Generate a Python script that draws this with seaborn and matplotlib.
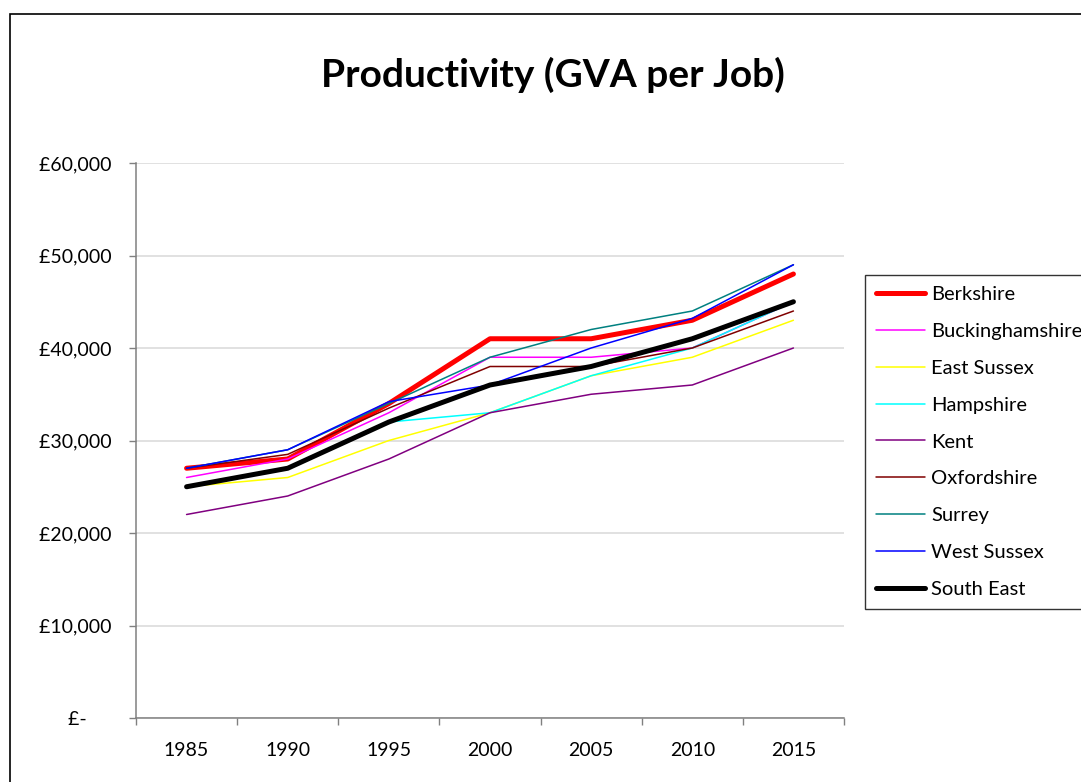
import numpy as np
import pandas as pd
import matplotlib
matplotlib.use("Agg")
import matplotlib.pyplot as plt
import matplotlib.ticker as mticker
from matplotlib.patches import Rectangle
import seaborn as sns

years = ["1985", "1990", "1995", "2000", "2005", "2010", "2015"]
berkshire = [27000, 28000, 34000, 41000, 41000, 43000, 48000]
buckinghamshire = [26000, 28000, 33000, 39000, 39000, 40000, 45000]
east_sussex = [25000, 26000, 30000, 33000, 37000, 39000, 43000]
hampshire = [25000, 27000, 32000, 33000, 37000, 40000, 45000]
kent = [22000, 24000, 28000, 33000, 35000, 36000, 40000]
oxfordshire = [27000, 28500, 33500, 38000, 38000, 40000, 44000]
surrey = [27000, 29000, 34000, 39000, 42000, 44000, 49000]
west_sussex = [27000, 29000, 34200, 36000, 40000, 43200, 49000]
south_east = [25000, 27000, 32000, 36000, 38000, 41000, 45000]

series = {
    "Berkshire": berkshire,
    "Buckinghamshire": buckinghamshire,
    "East Sussex": east_sussex,
    "Hampshire": hampshire,
    "Kent": kent,
    "Oxfordshire": oxfordshire,
    "Surrey": surrey,
    "West Sussex": west_sussex,
    "South East": south_east,
}
colors = {
    "Berkshire": "#FF0000",
    "Buckinghamshire": "#FF00FF",
    "East Sussex": "#FFFF00",
    "Hampshire": "#00FFFF",
    "Kent": "#800080",
    "Oxfordshire": "#800000",
    "Surrey": "#008080",
    "West Sussex": "#0000FF",
    "South East": "#000000",
}
thick = {"Berkshire", "South East"}

df = pd.DataFrame(
    [(name, y, v) for name, vals in series.items() for y, v in zip(years, vals)],
    columns=["Area", "Year", "GVA"],
)

sns.set_theme(style="white")
plt.rcParams["font.family"] = ["Lato", "DejaVu Sans"]
plt.rcParams["text.color"] = "black"

fig = plt.figure(figsize=(10.81, 7.82), dpi=100)
ax = fig.add_axes([136 / 1081, 1 - 718 / 782, (844 - 136) / 1081, (718 - 163) / 782])

# one line per area so widths can differ (Berkshire / South East thick)
for name in series:
    sub = df[df["Area"] == name]
    sns.lineplot(data=sub, x="Year", y="GVA", ax=ax, color=colors[name],
                 linewidth=3.6 if name in thick else 1.1, label=name,
                 solid_capstyle="round", solid_joinstyle="round", sort=False)

ax.set_xlim(-0.5, len(years) - 0.5)
ax.set_ylim(0, 60000)
ax.set_yticks(np.arange(0, 60001, 10000))
ax.yaxis.set_major_formatter(mticker.FuncFormatter(
    lambda v, p: "£-      " if v == 0 else f"£{v:,.0f} "))
ax.set_xticks(range(len(years)))
ax.set_xticklabels(years)
ax.set_xticks(np.arange(-0.5, len(years), 1.0), minor=True)
ax.tick_params(axis="x", which="major", length=0, pad=17, labelsize=14, colors="black")
ax.tick_params(axis="x", which="minor", length=5, width=1, direction="out",
               color="#808080", bottom=True)
ax.tick_params(axis="y", length=5, width=1, direction="out", color="#808080",
               pad=9, labelsize=14, labelcolor="black", left=True)
ax.set_xlabel("")
ax.set_ylabel("")
ax.grid(axis="y", color="#d9d9d9", linewidth=1.1)
ax.set_axisbelow(True)
for s in ["top", "right"]:
    ax.spines[s].set_visible(False)
for s in ["left", "bottom"]:
    ax.spines[s].set_color("#808080")
    ax.spines[s].set_linewidth(1.1)

fig.text(553 / 1081, 1 - 75 / 782, "Productivity (GVA per Job)", ha="center",
         va="center", fontsize=28, fontweight="bold", color="black")

leg = ax.legend(loc="upper left", bbox_to_anchor=(865 / 1081, 1 - 275 / 782),
                bbox_transform=fig.transFigure, frameon=True, fancybox=False,
                edgecolor="black", fontsize=14.5, handlelength=2.45, handletextpad=0.3,
                labelspacing=0.98, borderpad=0.55, borderaxespad=0)
leg.get_frame().set_linewidth(1.0)
for t in leg.get_texts():
    t.set_color("black")

# outer chart border (runs off the right and bottom edges)
fig.patches.append(Rectangle((10 / 1081, -0.1), 1.2, 1.1 - 14 / 782,
                             transform=fig.transFigure, fill=False,
                             edgecolor="black", linewidth=1.2))

fig.savefig("out.png", dpi=100)
